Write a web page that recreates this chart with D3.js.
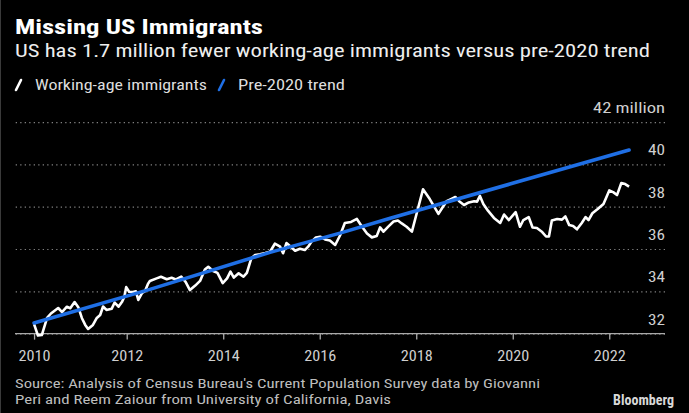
<!DOCTYPE html>
<html>
<head>
<meta charset="utf-8">
<script src="https://cdn.jsdelivr.net/npm/d3@7"></script>
<style>
  html, body { margin: 0; padding: 0; background: #000; }
  svg { display: block; }
</style>
</head>
<body>
<script>
// data (millions, decimal years)
var years = [2010.08, 2010.16, 2010.24, 2010.35, 2010.43, 2010.58, 2010.66, 2010.76, 2010.83, 2010.92,
  2011.00, 2011.07, 2011.14, 2011.20, 2011.30, 2011.38, 2011.45, 2011.51, 2011.58, 2011.69,
  2011.75, 2011.83, 2011.90, 2011.95, 2011.99, 2012.05, 2012.13, 2012.19, 2012.24, 2012.32,
  2012.38, 2012.44, 2012.48, 2012.62, 2012.71, 2012.83, 2012.93, 2013.02, 2013.13, 2013.22,
  2013.31, 2013.42, 2013.52, 2013.62, 2013.69, 2013.79, 2013.88, 2013.99, 2014.08, 2014.15,
  2014.22, 2014.32, 2014.42, 2014.49, 2014.58, 2014.66, 2014.76, 2014.87, 2014.97, 2015.07,
  2015.18, 2015.24, 2015.31, 2015.40, 2015.49, 2015.59, 2015.69, 2015.76, 2015.83, 2015.92,
  2016.01, 2016.11, 2016.21, 2016.32, 2016.42, 2016.52, 2016.65, 2016.77, 2016.88, 2016.98,
  2017.08, 2017.18, 2017.25, 2017.32, 2017.42, 2017.53, 2017.62, 2017.70, 2017.80, 2017.91,
  2018.01, 2018.14, 2018.28, 2018.46, 2018.54, 2018.63, 2018.73, 2018.81, 2018.89, 2018.99,
  2019.09, 2019.20, 2019.26, 2019.32, 2019.39, 2019.49, 2019.61, 2019.74, 2019.82, 2019.92,
  2020.06, 2020.15, 2020.22, 2020.33, 2020.41, 2020.50, 2020.61, 2020.69, 2020.75, 2020.81,
  2020.92, 2021.02, 2021.09, 2021.17, 2021.25, 2021.33, 2021.43, 2021.51, 2021.57, 2021.65,
  2021.76, 2021.88, 2021.96, 2022.00, 2022.08, 2022.16, 2022.25, 2022.33, 2022.41];

var immigrants = [32.45, 31.91, 31.93, 32.74, 32.95, 33.21, 33.02, 33.27, 33.20, 33.49,
  33.23, 32.74, 32.41, 32.22, 32.41, 32.74, 32.88, 33.28, 33.12, 33.18,
  33.47, 33.27, 33.49, 33.73, 34.20, 33.98, 33.97, 34.00, 33.59, 33.92,
  34.01, 34.35, 34.49, 34.61, 34.69, 34.57, 34.64, 34.56, 34.69, 34.45,
  34.06, 34.27, 34.49, 35.03, 35.16, 34.96, 34.87, 34.39, 34.61, 34.93,
  34.65, 34.85, 34.69, 34.87, 35.55, 35.72, 35.75, 35.81, 35.87, 36.25,
  36.11, 35.80, 36.28, 36.11, 35.92, 36.01, 35.95, 36.11, 36.35, 36.54,
  36.58, 36.45, 36.40, 36.19, 36.64, 37.23, 37.28, 37.42, 37.04, 36.73,
  36.55, 36.61, 37.02, 36.82, 37.06, 37.30, 37.35, 37.21, 37.05, 36.82,
  37.69, 38.82, 38.36, 37.66, 37.95, 38.26, 38.37, 38.46, 38.26, 38.08,
  38.20, 38.26, 38.24, 38.51, 38.13, 37.80, 37.47, 37.23, 37.63, 37.37,
  37.74, 37.05, 37.37, 37.51, 37.02, 36.99, 36.80, 36.59, 36.59, 37.35,
  37.42, 37.39, 37.54, 37.13, 37.09, 36.93, 37.23, 37.51, 37.37, 37.69,
  37.89, 38.13, 38.55, 38.77, 38.69, 38.55, 39.12, 39.07, 38.95];

var trendYears  = [2010.08, 2012.48, 2014.97, 2016.42, 2017.46, 2019.94, 2022.41];
var trendValues = [32.50, 34.09, 35.84, 36.75, 37.45, 39.07, 40.68];

var yTicks = [32, 34, 36, 38, 40, 42];
var xTickYears = [2010, 2012, 2014, 2016, 2018, 2020, 2022];

var W = 689, H = 413;
var left = 15, right = 665;
var font = "'Liberation Sans Narrow', 'Roboto Condensed', 'Liberation Sans', sans-serif";

var svg = d3.select("body").append("svg")
  .attr("width", W)
  .attr("height", H)
  .style("background", "#000");

svg.append("line")
  .attr("x1", 0.5).attr("x2", 0.5).attr("y1", 0).attr("y2", H)
  .attr("stroke", "#3a3a3a");

var x = d3.scaleLinear().domain([2010, 2022.5]).range([30.2, 633.4]);
var y = d3.scaleLinear().domain([32, 42]).range([333.6, 122.1]);

// titles
function fitText(sel, len) {
  sel.attr("textLength", len).attr("lengthAdjust", "spacingAndGlyphs");
}
svg.append("text").attr("x", 15).attr("y", 34)
  .attr("font-family", font).attr("font-weight", "bold").attr("font-size", 20)
  .attr("fill", "#fff").text("Missing US Immigrants").call(fitText, 248);
svg.append("text").attr("x", 15).attr("y", 57)
  .attr("font-family", font).attr("font-size", 18)
  .attr("fill", "#eee").text("US has 1.7 million fewer working-age immigrants versus pre-2020 trend")
  .call(fitText, 635);

// legend
var legend = [
  { name: "Working-age immigrants", color: "#ffffff", x: 15, len: 172 },
  { name: "Pre-2020 trend", color: "#1f6fe5", x: 218, len: 107 }
];
var lg = svg.selectAll(".lg").data(legend).enter().append("g")
  .attr("transform", function (d) { return "translate(" + d.x + ",0)"; });
lg.append("line")
  .attr("x1", 1).attr("y1", 90).attr("x2", 6).attr("y2", 80)
  .attr("stroke", function (d) { return d.color; })
  .attr("stroke-width", 2.6).attr("stroke-linecap", "round");
lg.append("text").attr("x", 20).attr("y", 90)
  .attr("font-family", font).attr("font-size", 14.5).attr("fill", "#ddd")
  .text(function (d) { return d.name; })
  .each(function (d) { d3.select(this).call(fitText, d.len); });

// y axis: dotted gridlines, labels above lines on the right
var yAxis = svg.append("g")
  .attr("transform", "translate(" + right + ",0)")
  .call(d3.axisLeft(y).tickValues(yTicks).tickSize(right - left)
    .tickFormat(function (d) { return d === 42 ? "42 million" : d; }));
yAxis.select(".domain").remove();
yAxis.selectAll(".tick line")
  .attr("stroke", "#808080").attr("stroke-width", 1.2)
  .attr("stroke-dasharray", "1.3,3.2");
yAxis.selectAll(".tick text")
  .attr("x", 0).attr("dy", -9.5)
  .attr("font-family", font).attr("font-size", 15.5).attr("fill", "#cfcfcf")
  .each(function (d) { d3.select(this).call(fitText, d === 42 ? 72 : 17); });

// x axis
var xTicks = xTickYears.map(function (v) { return v === 2010 ? years[0] : v; });
var xAxis = svg.append("g")
  .attr("transform", "translate(0," + y(32) + ")")
  .call(d3.axisBottom(x).tickValues(xTicks).tickSize(6).tickPadding(11)
    .tickFormat(function (d) { return Math.floor(d); }));
xAxis.select(".domain").remove();
xAxis.selectAll(".tick line").attr("stroke", "#aaa").attr("stroke-width", 1.3);
xAxis.selectAll(".tick text")
  .attr("font-family", font).attr("font-size", 15).attr("fill", "#cfcfcf")
  .call(fitText, 32);
svg.append("line")
  .attr("x1", left).attr("x2", right)
  .attr("y1", y(32)).attr("y2", y(32))
  .attr("stroke", "#aaa").attr("stroke-width", 1.4);

// lines
var line = d3.line()
  .x(function (d) { return x(d[0]); })
  .y(function (d) { return y(d[1]); });

svg.append("path")
  .datum(years.map(function (t, i) { return [t, immigrants[i]]; }))
  .attr("d", line)
  .attr("fill", "none").attr("stroke", "#fff").attr("stroke-width", 2.6)
  .attr("stroke-linejoin", "round");

svg.append("path")
  .datum(trendYears.map(function (t, i) { return [t, trendValues[i]]; }))
  .attr("d", line)
  .attr("fill", "none").attr("stroke", "#1f6fe5").attr("stroke-width", 3.6)
  .attr("stroke-linecap", "round");

// source + logo
svg.append("text").attr("x", 15).attr("y", 388)
  .attr("font-family", font).attr("font-size", 13.5).attr("fill", "#bdbdbd")
  .text("Source: Analysis of Census Bureau's Current Population Survey data by Giovanni")
  .call(fitText, 525);
svg.append("text").attr("x", 15).attr("y", 404)
  .attr("font-family", font).attr("font-size", 13.5).attr("fill", "#bdbdbd")
  .text("Peri and Reem Zaiour from University of California, Davis")
  .call(fitText, 376);
svg.append("text").attr("x", 674).attr("y", 405)
  .attr("text-anchor", "end")
  .attr("font-family", font).attr("font-weight", "bold").attr("font-size", 14)
  .attr("fill", "#d8d8d8").text("Bloomberg");
</script>
</body>
</html>
